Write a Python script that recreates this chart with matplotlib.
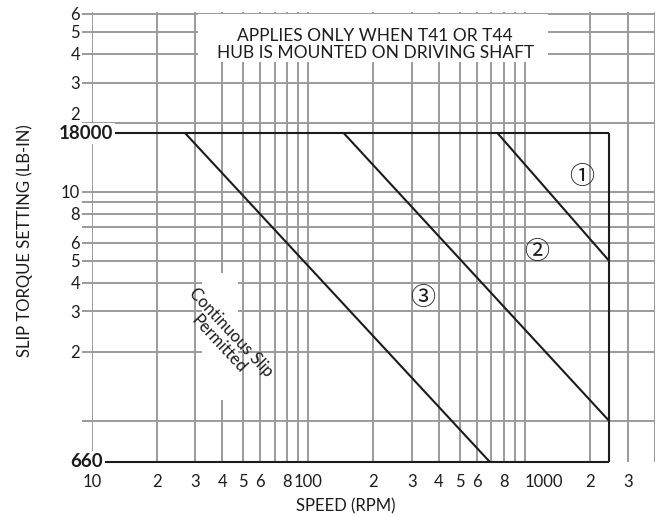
import matplotlib
matplotlib.use("Agg")
from matplotlib import pyplot as plt
from matplotlib.ticker import FixedLocator, FixedFormatter
from matplotlib.patches import Rectangle

plt.rcParams['font.family'] = ['Lato', 'DejaVu Sans', 'Noto Sans CJK JP']

# axis ticks and labels (labels show only the mantissa, as in the chart)
x_ticks = [10, 20, 30, 40, 50, 60, 70, 80, 90,
           100, 200, 300, 400, 500, 600, 700, 800, 900,
           1000, 2000, 3000, 4000]
x_labels = ['10', '2', '3', '4', '5', '6', '', '8', '',
            '100', '2', '3', '4', '5', '6', '', '8', '',
            '1000', '2', '3', '']
y_ticks = [1000, 2000, 3000, 4000, 5000, 6000, 7000, 8000, 9000,
           10000, 20000, 30000, 40000, 50000, 60000]
y_labels = ['', '2', '3', '4', '5', '6', '', '8', '',
            '10', '2', '3', '4', '5', '6']

# operating envelope
torque_max = 18000
torque_min = 660
speed_max = 2450

# slip limit lines (speed rpm, torque lb-in)
line1_speed = [750, 2450]
line1_torque = [18000, 5000]
line2_speed = [146, 2450]
line2_torque = [18000, 1000]
line3_speed = [27, 690]
line3_torque = [18000, 660]

# circled labels: (speed, torque)
curve_names = ['\u2460', '\u2461', '\u2462']
name_speed = [1830, 1136, 337]
name_torque = [11600, 5480, 3425]

grid_color = '#9b9b9b'
ink = '#1c1c1c'

fig = plt.figure(figsize=(6.65, 5.17), dpi=100)
ax = fig.add_axes([0.1383, 0.1064, 0.8467, 0.8704])
ax.set_xscale('log')
ax.set_yscale('log')
ax.set_xlim(10, 4000)
ax.set_ylim(torque_min, 61000)

ax.xaxis.set_major_locator(FixedLocator(x_ticks))
ax.xaxis.set_major_formatter(FixedFormatter(x_labels))
ax.xaxis.set_minor_locator(FixedLocator([]))
ax.yaxis.set_major_locator(FixedLocator(y_ticks))
ax.yaxis.set_major_formatter(FixedFormatter(y_labels))
ax.yaxis.set_minor_locator(FixedLocator([]))

ax.grid(True, which='major', color=grid_color, lw=1.4)
ax.tick_params(axis='x', length=0, pad=9, labelsize=12, labelcolor=ink)
ax.tick_params(axis='y', length=7, width=1.4, color=grid_color, pad=1.5,
               labelsize=12, labelcolor=ink)
for s in ax.spines.values():
    s.set_visible(False)

# the chart shifts a couple of crowded labels off their grid line
ax.xaxis.get_major_ticks()[x_labels.index('1000')].label1.set_ha('left')
ax.yaxis.get_major_ticks()[y_ticks.index(20000)].label1.set_va('bottom')

# white patches behind the notes
ax.add_patch(Rectangle((0.188, 0.889), 0.622, 0.107, transform=ax.transAxes,
                       facecolor='white', edgecolor='none', zorder=2))
ax.add_patch(Rectangle((0.195, 0.138), 0.064, 0.282, transform=ax.transAxes,
                       facecolor='white', edgecolor='none', zorder=2))

# envelope
kw = dict(color=ink, lw=1.5, clip_on=False, zorder=3, solid_capstyle='butt')
ax.plot([10, speed_max], [torque_max, torque_max], **kw)
ax.plot([10, speed_max], [torque_min, torque_min], **kw)
ax.plot([speed_max, speed_max], [torque_min, torque_max], **kw)

ax.plot(line1_speed, line1_torque, **kw)
ax.plot(line2_speed, line2_torque, **kw)
ax.plot(line3_speed, line3_torque, **kw)

for name, sx, ty in zip(curve_names, name_speed, name_torque):
    ax.text(sx, ty, name, fontsize=18, ha='center', va='center', color=ink,
            zorder=4, family=['Noto Sans CJK JP', 'DejaVu Sans'])

# bold limit labels
lab_box = dict(facecolor='white', edgecolor='none', pad=1.5)
ax.text(0.037, torque_max, str(torque_max), transform=ax.get_yaxis_transform(),
        ha='right', va='center', fontsize=13.5, fontweight='bold', color=ink,
        bbox=lab_box, zorder=5, clip_on=False)
ax.text(0.02, torque_min, str(torque_min), transform=ax.get_yaxis_transform(),
        ha='right', va='center', fontsize=13.5, fontweight='bold', color=ink,
        bbox=lab_box, zorder=5, clip_on=False)

ax.text(0.503, 0.927, 'APPLIES ONLY WHEN T41 OR T44\nHUB IS MOUNTED ON DRIVING SHAFT',
        transform=ax.transAxes, ha='center', va='center', fontsize=12.5,
        color=ink, linespacing=1.1, zorder=4)

ax.text(0.236, 0.275, 'Continuous Slip\nPermitted', transform=ax.transAxes,
        ha='center', va='center', multialignment='center', rotation=-47,
        rotation_mode='anchor', fontsize=12, color=ink, linespacing=1.0,
        zorder=4)

ax.set_xlabel('SPEED (RPM)', fontsize=12, color=ink)
ax.xaxis.set_label_coords(0.45, -0.08)
ax.set_ylabel('SLIP TORQUE SETTING (LB-IN)', fontsize=12, color=ink)
ax.yaxis.set_label_coords(-0.105, 0.493)

fig.savefig('out.png', dpi=100)
